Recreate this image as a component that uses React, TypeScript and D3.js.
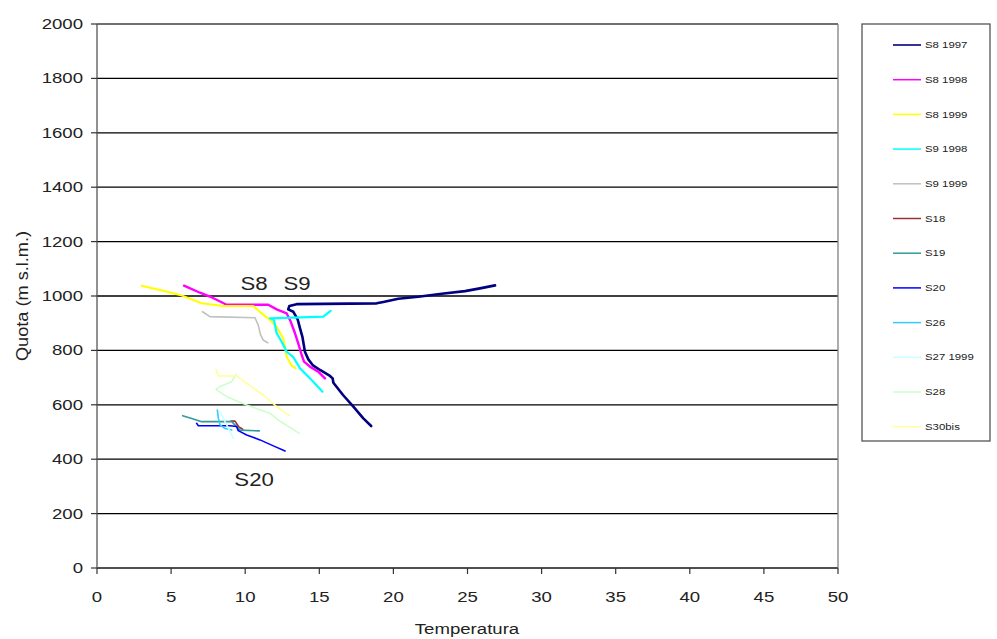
import React from "react";
import * as d3 from "d3";

type Pt = [number, number];

const xTicks = [0, 5, 10, 15, 20, 25, 30, 35, 40, 45, 50];
const yTicks = [0, 200, 400, 600, 800, 1000, 1200, 1400, 1600, 1800, 2000];

const s8_1997: Pt[] = [[26.86,1039],[25.84,1028],[24.83,1018],[23.26,1008],[21.68,997],[20.33,990],[19.32,978],[18.87,973],[13.47,970],[12.98,963],[12.9,951],[13.25,942],[13.54,914],[13.7,881],[13.86,850],[14.03,795],[14.26,767],[14.55,746],[15.05,728],[15.72,706],[15.9,697],[15.95,681],[16.6,636],[17.3,593],[17.97,550],[18.5,522]];
const s8_1998: Pt[] = [[5.87,1038],[6.95,1012],[7.62,998],[8.75,968],[11.56,968],[12.12,951],[12.8,936],[13.07,906],[13.36,863],[13.58,826],[13.81,783],[13.97,759],[14.37,740],[14.93,722],[15.38,697]];
const s8_1999: Pt[] = [[3.01,1038],[4.47,1019],[5.6,1004],[6.38,988],[7.06,973],[8.52,963],[10.55,963],[11.11,936],[11.67,912],[12.12,887],[12.57,844],[12.7,808],[12.8,777],[13.1,746],[13.4,734]];
const s9_1998: Pt[] = [[15.77,945],[15.27,924],[11.67,918],[11.94,912],[12.12,863],[12.46,832],[12.8,795],[13.25,775],[13.7,734],[14.48,691],[15.22,648]];
const s9_1999: Pt[] = [[7.12,942],[7.62,924],[10.66,920],[10.88,893],[11.04,857],[11.22,838],[11.52,828]];
const s18: Pt[] = [[9.04,540],[9.31,540],[9.55,520],[9.83,510]];
const s19: Pt[] = [[5.78,560],[6.39,550],[7.06,538],[9.09,538],[9.65,507],[10.95,504]];
const s20: Pt[] = [[6.72,532],[6.84,523],[8.97,523],[9.42,520],[9.53,505],[10.1,489],[11.0,471],[11.9,449],[12.69,430]];
const s26: Pt[] = [[8.12,581],[8.19,550],[8.3,526],[8.6,514],[9.09,507]];
const s27_1999: Pt[] = [[8.3,575],[8.86,514],[9.2,477]];
const s28: Pt[] = [[9.38,712],[9.09,685],[8.3,667],[8.03,657],[8.75,630],[10.1,599],[11.67,569],[12.23,544],[13.65,495]];
const s30bis: Pt[] = [[8.03,730],[8.19,706],[9.42,706],[10.1,679],[11.22,636],[12.12,593],[12.98,560]];

const seriesNames = ["S8 1997","S8 1998","S8 1999","S9 1998","S9 1999","S18","S19","S20","S26","S27 1999","S28","S30bis"];
const seriesData = [s8_1997,s8_1998,s8_1999,s9_1998,s9_1999,s18,s19,s20,s26,s27_1999,s28,s30bis];
const seriesColors = ["#000080","#FF00FF","#FFFF00","#00FFFF","#C0C0C0","#993333","#339999","#0000FF","#33CCFF","#CCFFFF","#CCFFCC","#FFFF99"];
const seriesWidths = [2.6,2.4,2.0,2.2,1.6,1.6,1.6,1.6,1.6,1.6,1.6,1.6];

const annotations: { text: string; t: number; q: number }[] = [
  { text: "S8", t: 10.6, q: 1045 },
  { text: "S9", t: 13.5, q: 1045 },
  { text: "S20", t: 10.6, q: 325 },
];

const W = 997, H = 639;
const L = 97, R = 838, T = 24, B = 568;
const FONT = "'Liberation Sans', Arial, sans-serif";
const SX = 1.2;

function SText({ x, y, children, size, anchor = "middle", fill = "#222" }: any) {
  return (
    <g transform={`translate(${x},${y}) scale(${SX},1)`}>
      <text x={0} y={0} fontSize={size} textAnchor={anchor} fill={fill} fontFamily={FONT} dominantBaseline="central">{children}</text>
    </g>
  );
}

export default function App() {
  const x = d3.scaleLinear().domain([0, 50]).range([L, R]);
  const y = d3.scaleLinear().domain([0, 2000]).range([B, T]);
  const line = d3.line<Pt>().x(d => x(d[0])).y(d => y(d[1]));

  const legX = 862, legY = 24, legW = 128, legH = 417;
  const rowY = (i: number) => 45 + i * 34.7;

  return (
    <svg width={W} height={H} style={{ position: "absolute", left: 0, top: 0, background: "#fff" }}>
      <rect x={0} y={0} width={W} height={H} fill="#fff" />
      {/* gridlines */}
      {yTicks.map(v => (
        <line key={"g" + v} x1={L} x2={R} y1={y(v)} y2={y(v)} stroke="#000" strokeWidth={1.3} />
      ))}
      {/* plot border */}
      <line x1={L} x2={R} y1={T} y2={T} stroke="#808080" strokeWidth={1.3} />
      <line x1={R} x2={R} y1={T} y2={B} stroke="#808080" strokeWidth={1.3} />
      {/* axes */}
      <line x1={L} x2={L} y1={T} y2={B} stroke="#555" strokeWidth={1.3} />
      <line x1={L} x2={R} y1={B} y2={B} stroke="#555" strokeWidth={1.3} />
      {yTicks.map(v => (
        <line key={"yt" + v} x1={L - 6} x2={L} y1={y(v)} y2={y(v)} stroke="#333" strokeWidth={1.2} />
      ))}
      {xTicks.map(v => (
        <line key={"xt" + v} x1={x(v)} x2={x(v)} y1={B} y2={B + 6} stroke="#333" strokeWidth={1.2} />
      ))}
      {yTicks.map(v => (
        <SText key={"yl" + v} x={83} y={y(v)} size={15.5} anchor="end">{v}</SText>
      ))}
      {xTicks.map(v => (
        <SText key={"xl" + v} x={x(v)} y={597} size={15.5}>{v}</SText>
      ))}
      <SText x={467} y={629} size={15.5}>Temperatura</SText>
      <g transform={`translate(22,296) rotate(-90)`}>
        <text x={0} y={0} fontSize={16} textAnchor="middle" dominantBaseline="central" fill="#222" fontFamily={FONT} textLength={130} lengthAdjust="spacingAndGlyphs">Quota (m s.l.m.)</text>
      </g>
      {/* series */}
      <g clipPath="url(#clip)">
        {seriesData.map((d, i) => (
          <path key={"s" + i} d={line(d) || ""} fill="none" stroke={seriesColors[i]} strokeWidth={seriesWidths[i]} strokeLinejoin="round" strokeLinecap="round" />
        ))}
      </g>
      {annotations.map(a => (
        <SText key={a.text} x={x(a.t)} y={y(a.q)} size={18.5}>{a.text}</SText>
      ))}
      {/* legend */}
      <rect x={legX} y={legY} width={legW} height={legH} fill="#fff" stroke="#555" strokeWidth={1.3} />
      {seriesNames.map((n, i) => (
        <g key={"lg" + n}>
          <line x1={893} x2={921} y1={rowY(i)} y2={rowY(i)} stroke={seriesColors[i]} strokeWidth={i === 0 ? 1.6 : 1.5} />
          <SText x={925} y={rowY(i)} size={9.5} anchor="start">{n}</SText>
        </g>
      ))}
    </svg>
  );
}
